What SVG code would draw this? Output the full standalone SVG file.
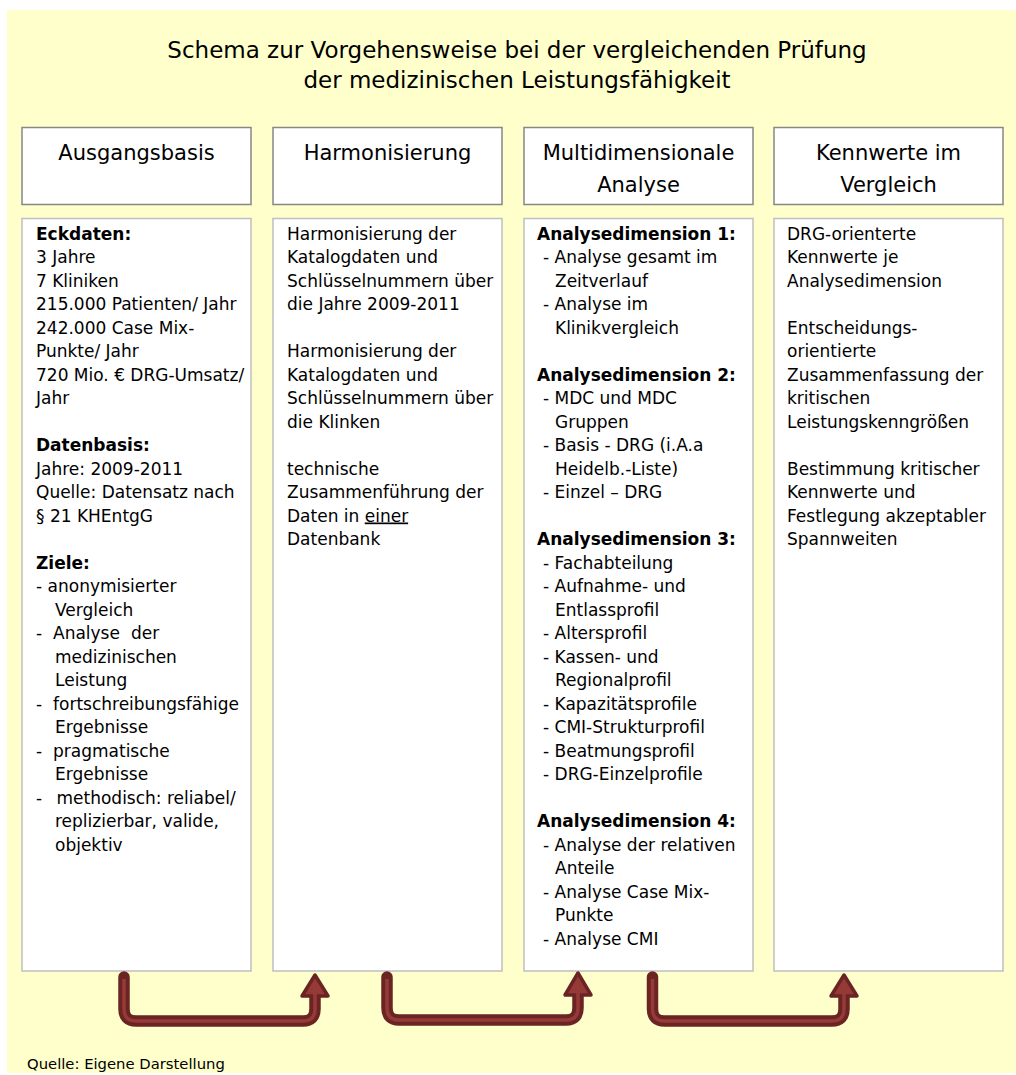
<svg xmlns="http://www.w3.org/2000/svg" width="1016" height="1075" viewBox="0 0 1016 1075">
<style>
  text { font-family: "DejaVu Sans", Verdana, sans-serif; fill: #000; }
  .title { font-size: 23px; text-anchor: middle; }
  .head { font-size: 21px; text-anchor: middle; }
  .body { font-size: 17px; }
  .b { font-weight: bold; }
  .foot { font-size: 14.8px; }
  .hbox { fill: #fff; stroke: #878787; stroke-width: 1.5; }
  .cbox { fill: #fff; stroke: #bfbfbf; stroke-width: 1.5; }
  .aout { fill: none; stroke: #6b2424; stroke-width: 11.5; stroke-linecap: round; stroke-linejoin: round; }
  .ain { fill: none; stroke: #963a37; stroke-width: 3.5; stroke-linecap: butt; stroke-linejoin: round; }
  .ahead { fill: #963a37; stroke: #6b2424; stroke-width: 3.5; stroke-linejoin: round; }
</style>
<rect x="7" y="10" width="1009" height="1063" fill="#ffffcc"/>
<g id="title">
  <text class="title" x="517" y="57.5">Schema zur Vorgehensweise bei der vergleichenden Prüfung</text>
  <text class="title" x="517" y="87.5">der medizinischen Leistungsfähigkeit</text>
</g>

<g id="head1"><rect class="hbox" x="22" y="127.5" width="229" height="77"/><text class="head" x="136.5" y="160">Ausgangsbasis</text></g>
<g id="head2"><rect class="hbox" x="273" y="127.5" width="229" height="77"/><text class="head" x="387.5" y="160">Harmonisierung</text></g>
<g id="head3"><rect class="hbox" x="524" y="127.5" width="229" height="77"/><text class="head" x="638.5" y="160">Multidimensionale</text><text class="head" x="638.5" y="192">Analyse</text></g>
<g id="head4"><rect class="hbox" x="774" y="127.5" width="229" height="77"/><text class="head" x="888.5" y="160">Kennwerte im</text><text class="head" x="888.5" y="192">Vergleich</text></g>

<g id="col1">
  <rect class="cbox" x="22" y="218.5" width="229" height="752.5"/>
  <g class="body">
    <text class="body b" x="36" y="239.5">Eckdaten:</text>
    <text class="body" x="36" y="263">3 Jahre</text>
    <text class="body" x="36" y="286.5">7 Kliniken</text>
    <text class="body" x="36" y="310">215.000 Patienten/ Jahr</text>
    <text class="body" x="36" y="333.5">242.000 Case Mix-</text>
    <text class="body" x="36" y="357">Punkte/ Jahr</text>
    <text class="body" x="36" y="380.5">720 Mio. € DRG-Umsatz/</text>
    <text class="body" x="36" y="404">Jahr</text>
    <text class="body b" x="36" y="451">Datenbasis:</text>
    <text class="body" x="36" y="474.5">Jahre: 2009-2011</text>
    <text class="body" x="36" y="498">Quelle: Datensatz nach</text>
    <text class="body" x="36" y="521.5">§ 21 KHEntgG</text>
    <text class="body b" x="36" y="568.5">Ziele:</text>
    <text class="body" x="36" y="592">- anonymisierter</text>
    <text class="body" x="55" y="615.5">Vergleich</text>
    <text class="body" x="36" y="639">-<tspan x="53">Analyse</tspan><tspan x="131">der</tspan></text>
    <text class="body" x="55" y="662.5">medizinischen</text>
    <text class="body" x="55" y="686">Leistung</text>
    <text class="body" x="36" y="709.5">-<tspan x="53">fortschreibungsfähige</tspan></text>
    <text class="body" x="55" y="733">Ergebnisse</text>
    <text class="body" x="36" y="756.5">-<tspan x="53">pragmatische</tspan></text>
    <text class="body" x="55" y="780">Ergebnisse</text>
    <text class="body" x="36" y="803.5">-<tspan x="56.5">methodisch: reliabel/</tspan></text>
    <text class="body" x="55" y="827">replizierbar, valide,</text>
    <text class="body" x="55" y="850.5">objektiv</text>
  </g>
</g>

<g id="col2">
  <rect class="cbox" x="273" y="218.5" width="229" height="752.5"/>
  <text class="body" x="287" y="239.5">Harmonisierung der</text>
  <text class="body" x="287" y="263">Katalogdaten und</text>
  <text class="body" x="287" y="286.5">Schlüsselnummern über</text>
  <text class="body" x="287" y="310">die Jahre 2009-2011</text>
  <text class="body" x="287" y="357">Harmonisierung der</text>
  <text class="body" x="287" y="380.5">Katalogdaten und</text>
  <text class="body" x="287" y="404">Schlüsselnummern über</text>
  <text class="body" x="287" y="427.5">die Klinken</text>
  <text class="body" x="287" y="474.5">technische</text>
  <text class="body" x="287" y="498">Zusammenführung der</text>
  <text class="body" x="287" y="521.5">Daten in <tspan text-decoration="underline">einer</tspan></text>
  <text class="body" x="287" y="545">Datenbank</text>
</g>

<g id="col3">
  <rect class="cbox" x="524" y="218.5" width="229" height="752.5"/>
  <text class="body b" x="537" y="239.5">Analysedimension 1:</text>
  <text class="body" x="543" y="263">- Analyse gesamt im</text>
  <text class="body" x="555" y="286.5">Zeitverlauf</text>
  <text class="body" x="543" y="310">- Analyse im</text>
  <text class="body" x="555" y="333.5">Klinikvergleich</text>
  <text class="body b" x="537" y="380.5">Analysedimension 2:</text>
  <text class="body" x="543" y="404">- MDC und MDC</text>
  <text class="body" x="555" y="427.5">Gruppen</text>
  <text class="body" x="543" y="451">- Basis - DRG (i.A.a</text>
  <text class="body" x="555" y="474.5">Heidelb.-Liste)</text>
  <text class="body" x="543" y="498">- Einzel – DRG</text>
  <text class="body b" x="537" y="545">Analysedimension 3:</text>
  <text class="body" x="543" y="568.5">- Fachabteilung</text>
  <text class="body" x="543" y="592">- Aufnahme- und</text>
  <text class="body" x="555" y="615.5">Entlassprofil</text>
  <text class="body" x="543" y="639">- Altersprofil</text>
  <text class="body" x="543" y="662.5">- Kassen- und</text>
  <text class="body" x="555" y="686">Regionalprofil</text>
  <text class="body" x="543" y="709.5">- Kapazitätsprofile</text>
  <text class="body" x="543" y="733">- CMI-Strukturprofil</text>
  <text class="body" x="543" y="756.5">- Beatmungsprofil</text>
  <text class="body" x="543" y="780">- DRG-Einzelprofile</text>
  <text class="body b" x="537" y="827">Analysedimension 4:</text>
  <text class="body" x="543" y="850.5">- Analyse der relativen</text>
  <text class="body" x="555" y="874">Anteile</text>
  <text class="body" x="543" y="897.5">- Analyse Case Mix-</text>
  <text class="body" x="555" y="921">Punkte</text>
  <text class="body" x="543" y="944.5">- Analyse CMI</text>
</g>

<g id="col4">
  <rect class="cbox" x="774" y="218.5" width="229" height="752.5"/>
  <text class="body" x="787" y="239.5">DRG-orienterte</text>
  <text class="body" x="787" y="263">Kennwerte je</text>
  <text class="body" x="787" y="286.5">Analysedimension</text>
  <text class="body" x="787" y="333.5">Entscheidungs-</text>
  <text class="body" x="787" y="357">orientierte</text>
  <text class="body" x="787" y="380.5">Zusammenfassung der</text>
  <text class="body" x="787" y="404">kritischen</text>
  <text class="body" x="787" y="427.5">Leistungskenngrößen</text>
  <text class="body" x="787" y="474.5">Bestimmung kritischer</text>
  <text class="body" x="787" y="498">Kennwerte und</text>
  <text class="body" x="787" y="521.5">Festlegung akzeptabler</text>
  <text class="body" x="787" y="545">Spannweiten</text>
</g>

<g id="connectors">
  <g id="arrow1">
    <path class="aout" d="M124,977 V1009 Q124,1021 136,1021 H303 Q315,1021 315,1009 V995"/>
    <polygon class="ahead" points="315,975 302,996 328,996"/>
    <path class="ain" d="M124,979 V1009 Q124,1021 136,1021 H303 Q315,1021 315,1009 V992"/>
  </g>
  <g id="arrow2">
    <path class="aout" d="M387,977 V1008 Q387,1020 399,1020 H566 Q578,1020 578,1008 V994"/>
    <polygon class="ahead" points="578,973 565,995 591,995"/>
    <path class="ain" d="M387,979 V1008 Q387,1020 399,1020 H566 Q578,1020 578,1008 V991"/>
  </g>
  <g id="arrow3">
    <path class="aout" d="M652.5,977 V1009 Q652.5,1021 664.5,1021 H832 Q844,1021 844,1009 V995"/>
    <polygon class="ahead" points="844,975 831,996 857,996"/>
    <path class="ain" d="M652.5,979 V1009 Q652.5,1021 664.5,1021 H832 Q844,1021 844,1009 V992"/>
  </g>
</g>

<text class="foot" x="27" y="1069">Quelle: Eigene Darstellung</text>
</svg>
